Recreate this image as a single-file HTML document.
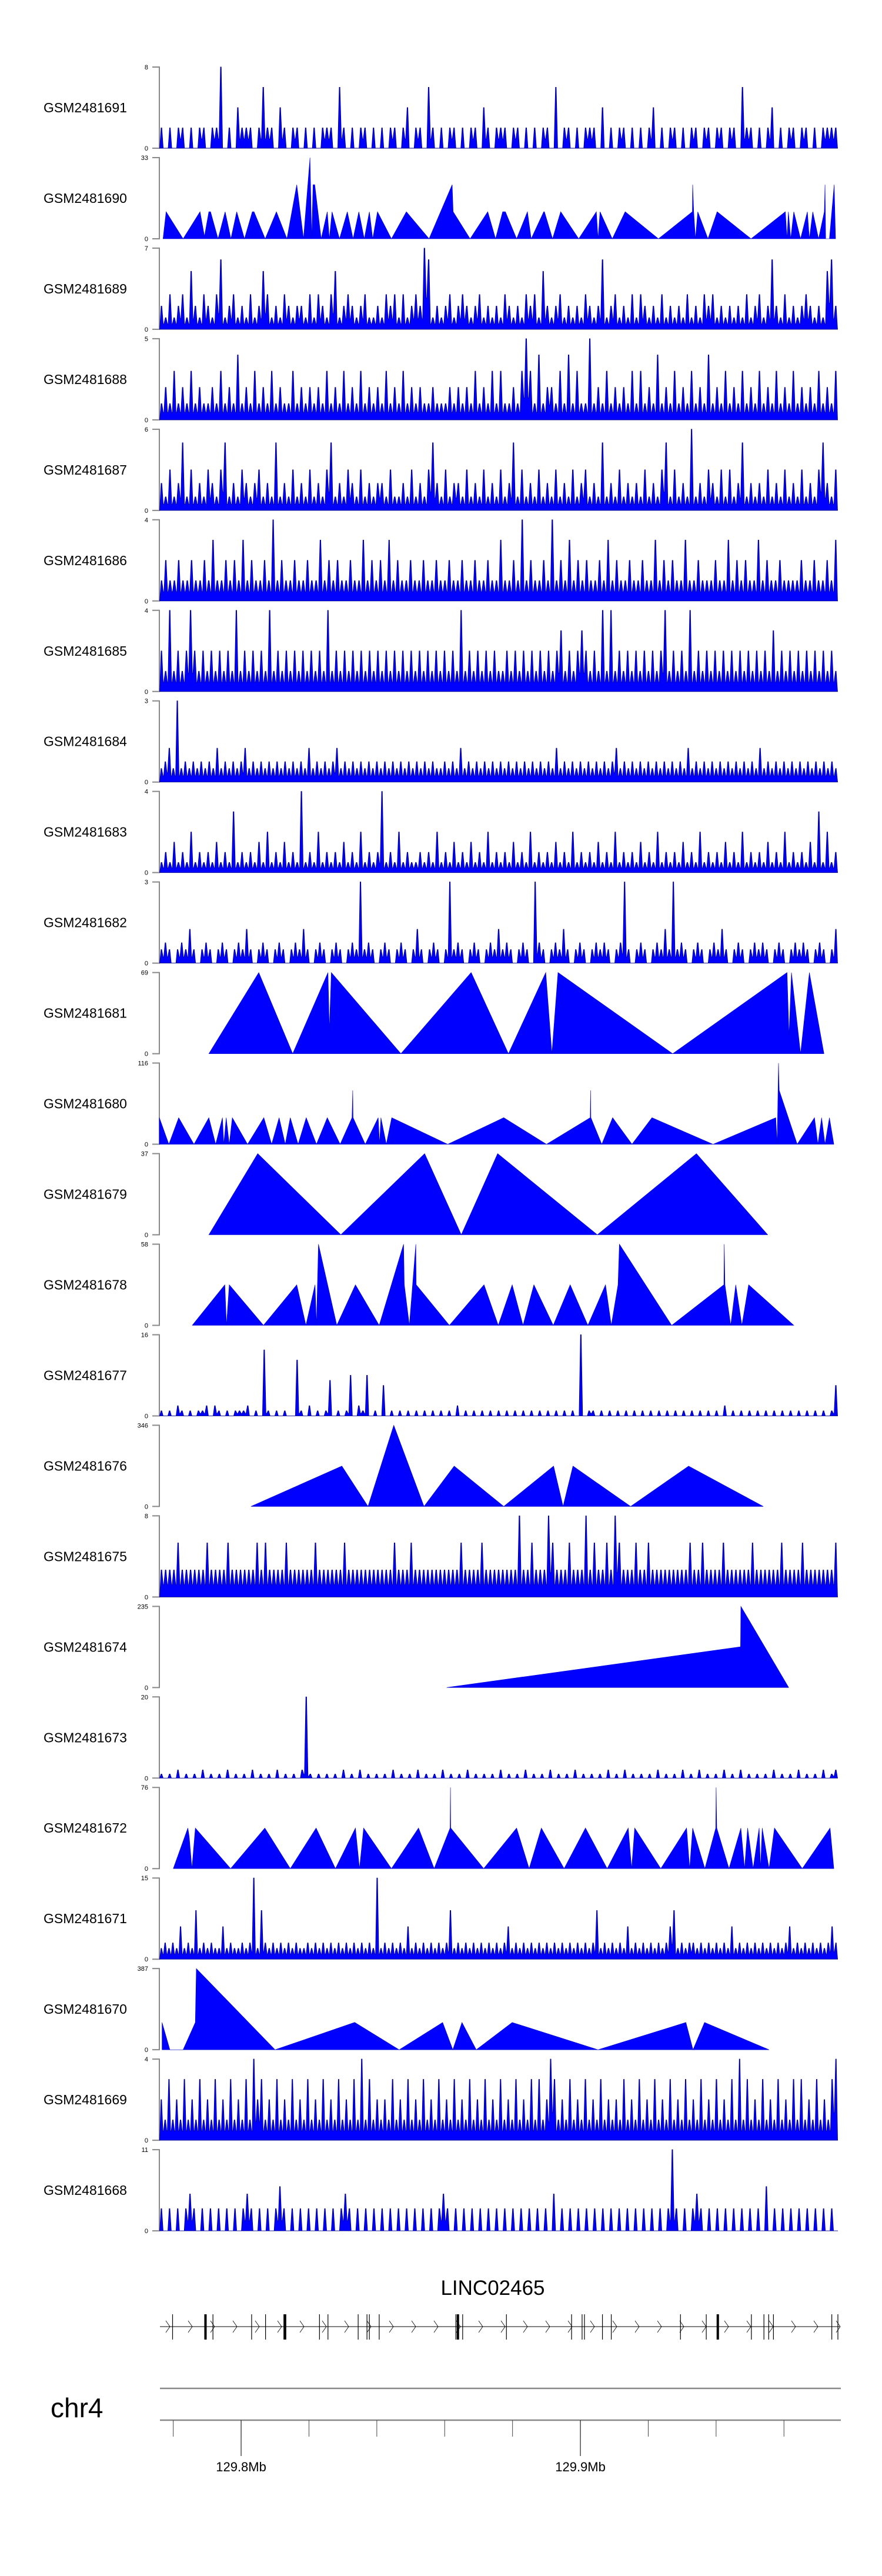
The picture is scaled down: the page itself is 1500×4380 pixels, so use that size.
<!DOCTYPE html>
<html><head><meta charset="utf-8"><style>
html,body{margin:0;padding:0;background:#fff;}
svg{display:block;font-family:"Liberation Sans",Arial,sans-serif;}
</style></head><body>
<svg id="chart" width="1500" height="4380" viewBox="0 0 1500 4380" xmlns="http://www.w3.org/2000/svg"></svg>
<script>
// ---- data ----
const sampleNames = ["GSM2481691","GSM2481690","GSM2481689","GSM2481688","GSM2481687","GSM2481686","GSM2481685","GSM2481684","GSM2481683","GSM2481682","GSM2481681","GSM2481680","GSM2481679","GSM2481678","GSM2481677","GSM2481676","GSM2481675","GSM2481674","GSM2481673","GSM2481672","GSM2481671","GSM2481670","GSM2481669","GSM2481668"];
const axisMax = [8,33,7,5,6,4,4,3,4,3,69,116,37,58,16,346,8,235,20,76,15,387,4,11];
// dense tracks: base-36 digit per bin, multiplied by unit
const denseUnit = {0:1,2:1,3:1,4:1,5:1,6:1,7:0.25,8:0.5,9:0.25,14:1,16:8/3,18:1,20:1,22:0.5,23:1};
const dense0 = "2020220202202280204222026220420220202022206202022020202202402206202022020220420222022020202206022020222040202202020240202202022022022022062202024020220220202222";
const dense2 = "2131231521321361231213125312132122131321351232123112132313123276121231232123121213212132315212312121321261231213132121312121312132312121213123126213121232121562";
const dense3 = "1213121312112131214121312131211312121213121312131212131213121211211121212131213131121353141221314131151213121213131214121312131214121312131213121312131212131213";
const dense4 = "2131251312132135121321231215121312131213512132131212213112131213521312213121312131251312131213121312312151213121213121351312161213213131251212131213121312135213";
const dense5 = "12112112112131121213121121412112112113121211211312121312112112112112112112112113112141211214121312121121312112112113121211311211121131212113121121111211211213";
const dense6 = "2141212421212121214121212141212121212121412121212121212121212121212121214121212121121212121212123121232121414121212121212412121412121212121212121213121212121212121";
const dense7 = "2352c232323232523232352323232323232325232323523232323232323232323232322323252323232323232323232323252323232323232352323232323232323252323232323232323252323232323232323232";
const dense8 = "1213121412121312161212131412131218121412121312141212812141211212141213121312141212131214121213121412121312141212131214121213121412121312141212131214121213161412";
const dense9 = "2320232520232023202325202320232023252023202320232c232023202320252023202c23202320232523202320c320232520232023232023c20232023252c2320232023252023202323202320232320232025";
const dense14 = "1010210101120210101112010d1010100b10201017010180218010601010101010101010201010101010101010101010101010g01101010101010101010101010101010102010101010101010101010101016";
const dense16 = "1111211111121111211111121211112111111211111121111111111121112111111111112111121111111131121113211121113121121321112112111111111211211112111111211111121111211111112";
const dense18 = "10102010102010102010102010102010102k10101010201020101010201010201010201010201010102010102010102010102010101020102010101020101020102010102010201010102010102010102012";
const dense20 = "232326232923232262322323f2932323232322323232323232323232f23232326232323232392323232323232362323232323232323232323923232326232323232369232332323232326232323232323236232323232363";
const dense22 = "42624262426242624262426284624262426242624262426242628262424262426242624262426242624262426242624262624862426242624262424262426242624262426242624262426282624262426242626242624268";
const dense23 = "30303035303030303030353030303630303030303030353030303030303030303030353030303030303030303030303050303030303030303030303030303b3030353030303030303030603030303030303030";
// sparse tracks: [kb offset, value]
const sparse1 = [[1.1,0],[2.0,11],[7.0,0],[12.0,11],[13.3,1],[14.6,11],[15.1,11],[17.3,0],[19.4,11],[21.1,0],[22.8,11],[25.1,0],[27.4,11],[27.9,11],[31.2,0],[34.5,11],[37.6,0],[40.5,22],[42.5,0],[44.4,33],[44.9,0],[45.3,22],[45.8,22],[47.7,0],[49.5,11],[50.1,0],[50.9,11],[53.1,0],[55.4,11],[57.1,0],[58.8,11],[60.4,0],[61.9,11],[62.9,0],[64.3,11],[68.4,0],[72.8,11],[79.5,0],[86.3,22],[86.6,11],[91.6,0],[96.8,11],[99.1,0],[101.2,11],[102.0,11],[105.3,0],[108.5,11],[109.6,0],[113.3,11],[113.5,11],[115.9,0],[118.3,11],[123.6,0],[128.8,11],[129.3,0],[129.9,11],[133.5,0],[137.3,11],[147.1,0],[157.1,11],[157.2,22],[157.5,11],[158.0,0],[158.7,11],[161.7,0],[164.4,11],[174.4,0],[184.5,11],[185.0,0],[185.4,11],[186.1,0],[187.0,11],[189.0,0],[191.0,11],[191.6,0],[192.6,11],[194.3,0],[196.0,11],[196.2,22],[196.4,0],[197.5,0],[198.9,22],[199.3,0]];
const sparse10 = [[14.6,0],[29.3,69],[39.3,0],[49.7,69],[50.1,20],[50.7,69],[71.2,0],[91.9,69],[102.9,0],[113.9,69],[115.7,0],[117.5,69],[151.3,0],[185.0,69],[185.6,15],[186.3,69],[189.0,0],[191.6,69],[195.9,0]];
const sparse11 = [[0,38],[2.8,0],[5.7,38],[10.2,0],[14.6,38],[16.6,0],[18.6,38],[19.0,0],[19.7,38],[20.6,0],[21.5,38],[26.0,0],[30.8,38],[33.1,0],[35.3,38],[37.1,0],[38.6,38],[40.9,0],[43.3,38],[46.3,0],[49.5,38],[53.3,0],[56.8,38],[57.0,77],[57.1,38],[60.7,0],[64.5,38],[64.9,0],[65.3,38],[66.9,0],[68.5,38],[85.0,0],[101.5,38],[114.1,0],[127.0,38],[127.1,77],[127.2,38],[130.4,0],[133.6,38],[139.3,0],[145.2,38],[163.2,0],[181.7,38],[182.1,0],[182.5,116],[182.7,77],[188.0,0],[193.1,38],[194.1,0],[195.2,38],[196.2,0],[197.5,38],[198.8,0]];
const sparse12 = [[14.6,0],[29.0,37],[53.5,0],[78.2,37],[89.0,0],[99.7,37],[129.1,0],[158.3,37],[179.3,0]];
const sparse13 = [[9.7,0],[19.3,29],[19.8,0],[20.6,29],[30.7,0],[40.5,29],[43.2,0],[45.9,29],[46.3,0],[46.9,58],[52.3,0],[57.8,29],[64.8,0],[72.0,58],[72.2,29],[73.7,0],[75.6,58],[75.7,29],[85.5,0],[95.7,29],[99.9,0],[104.0,29],[107.2,0],[110.4,29],[116.1,0],[121.1,29],[126.3,0],[131.5,29],[133.2,0],[135.2,29],[135.6,58],[151.0,0],[166.4,29],[166.5,58],[166.7,29],[168.4,0],[169.9,29],[171.7,0],[173.7,29],[187.0,0]];
const sparse15 = [[27.0,0],[53.8,172],[61.5,0],[69.1,346],[78.0,0],[86.9,172],[101.5,0],[116.2,172],[119.0,0],[121.9,172],[138.9,0],[156.0,172],[178.0,0]];
const sparse17 = [[84.7,0],[171.3,118],[171.4,235],[185.5,0]];
const sparse19 = [[4.1,0],[8.4,38],[8.8,30],[9.6,0],[10.6,38],[21.0,0],[31.1,38],[38.6,0],[46.2,38],[51.9,0],[57.8,38],[59.0,0],[60.2,38],[68.4,0],[76.4,38],[81.0,0],[85.7,38],[85.8,76],[85.9,38],[95.6,0],[105.3,38],[109.0,0],[112.6,38],[119.3,0],[125.6,38],[132.0,0],[138.2,38],[139.2,0],[140.1,38],[147.8,0],[155.4,38],[156.3,0],[157.2,38],[160.8,0],[164.0,38],[164.1,76],[164.3,38],[167.9,0],[171.4,38],[172.5,0],[173.4,38],[175.0,0],[176.8,38],[177.2,0],[177.7,38],[179.7,0],[181.3,38],[189.5,0],[197.7,38],[198.8,0]];
const sparse21 = [[0.8,130],[3.1,0],[7.0,0],[10.6,130],[10.9,387],[34.1,0],[57.5,130],[57.6,130],[70.7,0],[83.5,130],[86.5,0],[89.2,130],[93.4,0],[104.0,130],[129.3,0],[155.2,130],[157.3,0],[160.7,130],[179.7,0]];
// gene model (kb offsets) and genome axis
const exonKb = [3.9,13.5,13.8,15.8,27.2,31.3,36.7,37.3,47.2,49.7,58.6,61.2,61.9,64.8,87.4,88.2,89.4,102.3,121.5,124.6,125.3,130.6,133.2,153.6,161.2,164.6,174.5,178.2,179.6,181.0,198.2,200.0];
const exonThick = [13.6,37.0,88.0,164.6];
const regionStartKb = 129775.9;
const regionSpanKb = 200;
const majorTicks = ["129.8Mb","129.9Mb"];
const majorTickKb = [129800,129900];
const minorTickKb = [129780,129800,129820,129840,129860,129880,129900,129920,129940,129960];
const geneName = "LINC02465";

// ---- layout ----
const NS = "http://www.w3.org/2000/svg";
const svg = document.getElementById("chart");
const X0 = 271, X1 = 1425, TOP0 = 114, PITCH = 153.96, H = 138;
const GENE_Y = 3956, AX_Y1 = 4061, AX_Y2 = 4115;
function xScale(kb){ return X0 + kb/regionSpanKb*(X1-X0); }
function yScale(i, v){ const base = TOP0 + i*PITCH + H; return base - Math.min(v/axisMax[i],1)*H; }
function mk(tag, attrs, parent){ const e=document.createElementNS(NS,tag); for(const k in attrs) e.setAttribute(k, attrs[k]); (parent||svg).appendChild(e); return e; }

const sparseMap = {1:sparse1,10:sparse10,11:sparse11,12:sparse12,13:sparse13,15:sparse15,17:sparse17,19:sparse19,21:sparse21};
const denseMap = {0:dense0,2:dense2,3:dense3,4:dense4,5:dense5,6:dense6,7:dense7,8:dense8,9:dense9,14:dense14,16:dense16,18:dense18,20:dense20,22:dense22,23:dense23};

for(let i=0;i<sampleNames.length;i++){
  const top = TOP0 + i*PITCH, base = top + H;
  const g = mk("g", {});
  
  
  const lab = mk("text", {x:74, y:top+H/2+8, "font-size":23, fill:"#000"}, g);
  
  
  lab.textContent = sampleNames[i];
  const ax = mk("path", {d:`M259 ${top}H271V${base}H259`, stroke:"#888", "stroke-width":2, fill:"none"}, g);
  
  
  const t1 = mk("text", {x:252, y:top+4, "font-size":11, "text-anchor":"end", fill:"#000"}, g);
  
  
  t1.textContent = axisMax[i];
  const t0 = mk("text", {x:252, y:base+4, "font-size":11, "text-anchor":"end", fill:"#000"}, g);
  
  
  t0.textContent = "0";
  let pts = [];
  let dense = false;
  if(sparseMap[i]){
    const s = sparseMap[i];
    pts.push([xScale(s[0][0]), base]);
    for(const p of s) pts.push([xScale(p[0]), yScale(i,p[1])]);
    pts.push([xScale(s[s.length-1][0]), base]);
  } else {
    dense = true;
    const str = denseMap[i], u = denseUnit[i], step = regionSpanKb/str.length;
    const vals = [];
    for(let k=0;k<str.length;k++) vals.push(parseInt(str[k],36)*u);
    pts.push([X0, base]);
    for(let k=0;k<vals.length;k++){
      const c = k*step+step/2;
      const prev = k>0 ? vals[k-1] : 0;
      const next = k<vals.length-1 ? vals[k+1] : 0;
      const fl = Math.min(vals[k], prev)*0.45, fr = Math.min(vals[k], next)*0.45;
      pts.push([xScale(c-step*0.42), yScale(i,fl)]);
      pts.push([xScale(c-step*0.08), yScale(i,vals[k])]);
      pts.push([xScale(c+step*0.08), yScale(i,vals[k])]);
      pts.push([xScale(c+step*0.42), yScale(i,fr)]);
    }
    pts.push([X1, base]);
  }
  const poly = mk("polygon", {points: pts.map(p=>p[0].toFixed(1)+","+p[1].toFixed(1)).join(" "), fill:"#0000ff", stroke: dense ? "#00008b" : "#0000cc", "stroke-width": dense ? 0.9 : 0.6}, g);
  
  
}

// gene track
const gg = mk("g", {});


const gname = mk("text", {x:838, y:3902, "font-size":35, "text-anchor":"middle", fill:"#000"}, gg);


gname.textContent = geneName;
const gl = mk("line", {x1:272, x2:1428, y1:GENE_Y, y2:GENE_Y, stroke:"#000", "stroke-width":1}, gg);


for(let x=282; x<1425; x+=38){
  const ch = mk("path", {d:`M${x} ${GENE_Y-10}L${x+7} ${GENE_Y}L${x} ${GENE_Y+10}`, stroke:"#000", "stroke-width":0.8, fill:"none"}, gg);
  
  
}
for(const kb of exonKb){
  const ex = mk("line", {x1:xScale(kb), x2:xScale(kb), y1:GENE_Y-21, y2:GENE_Y+22, stroke:"#000", "stroke-width":1.2}, gg);
  
  
}
for(const kb of exonThick){
  const ex = mk("rect", {x:xScale(kb)-2, y:GENE_Y-21, width:4, height:43, fill:"#000"}, gg);
  
  
}

// genome axis
const ga = mk("g", {});


const chr = mk("text", {x:86, y:4110, "font-size":46, fill:"#000"}, ga);


chr.textContent = "chr4";
const l1 = mk("line", {x1:272, x2:1430, y1:AX_Y1, y2:AX_Y1, stroke:"#888", "stroke-width":2.5}, ga);


const l2 = mk("line", {x1:272, x2:1430, y1:AX_Y2, y2:AX_Y2, stroke:"#888", "stroke-width":2.5}, ga);


function gx(bp){ return xScale(bp-regionStartKb); }
for(const kb of minorTickKb){
  const t = mk("line", {x1:gx(kb), x2:gx(kb), y1:AX_Y2, y2:AX_Y2+28, stroke:"#444", "stroke-width":1}, ga);
  
  
}
for(let k=0;k<majorTickKb.length;k++){
  const x = gx(majorTickKb[k]);
  const t = mk("line", {x1:x, x2:x, y1:AX_Y2, y2:AX_Y2+61, stroke:"#222", "stroke-width":1.2}, ga);
  
  
  const tl = mk("text", {x:x, y:AX_Y2+87, "font-size":22, "text-anchor":"middle", fill:"#000"}, ga);
  
  
  tl.textContent = majorTicks[k];
}
</script>
</body></html>
